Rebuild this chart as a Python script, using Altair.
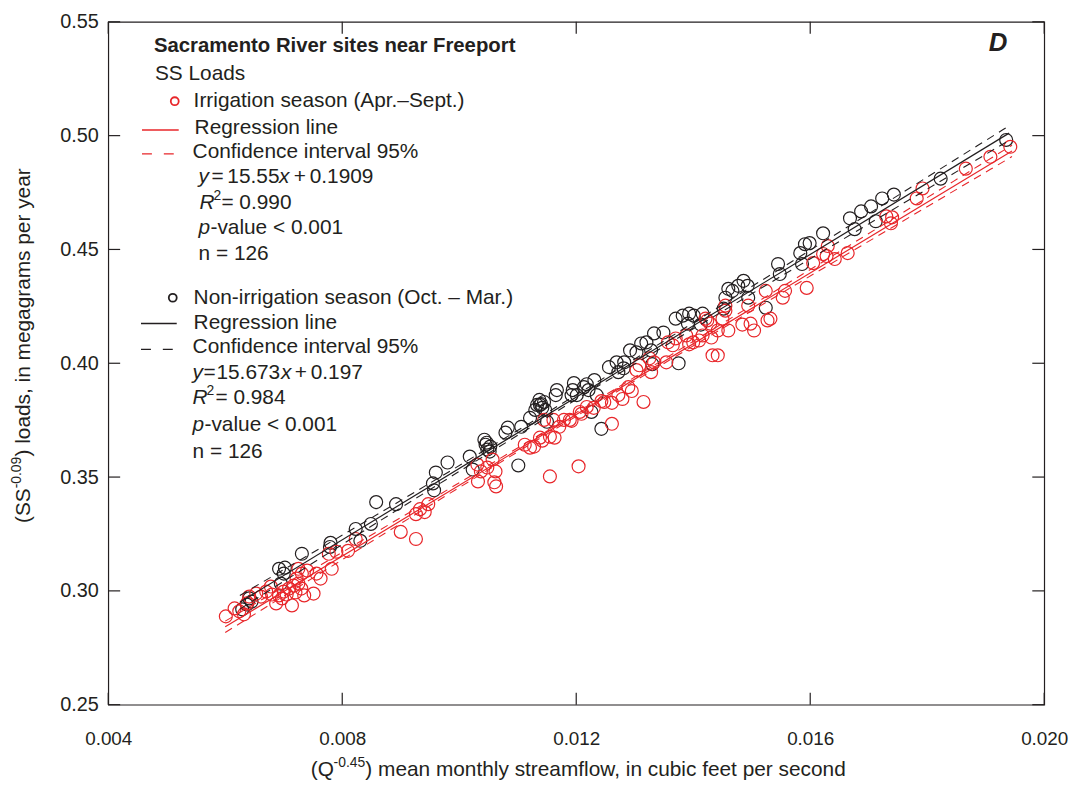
import altair as alt
import pandas as pd

FONT = "Liberation Sans, Arial, Helvetica, sans-serif"
INK = "#231f20"
RED = "#e8262a"

x_ticks = [0.004, 0.008, 0.012, 0.016, 0.020]
y_ticks = [0.25, 0.30, 0.35, 0.40, 0.45, 0.50, 0.55]

# Irrigation season (Apr.-Sept.)
red_x = [0.00601, 0.00616, 0.00624, 0.00632, 0.00637, 0.00641, 0.00653, 0.00661, 0.00670, 0.00680,
         0.00687, 0.00692, 0.00697, 0.00700, 0.00705, 0.00714, 0.00709, 0.00717, 0.00722, 0.00725,
         0.00731, 0.00730, 0.00735, 0.00720, 0.00751, 0.00756, 0.00763, 0.00740, 0.00782, 0.00777,
         0.00790, 0.00810, 0.00823, 0.00678, 0.00725,
         0.00900, 0.00926, 0.00926, 0.00933, 0.00941, 0.00947,
         0.01031, 0.01037, 0.01032, 0.01048, 0.01057, 0.01062, 0.01063, 0.01060,
         0.01112, 0.01121, 0.01128, 0.01138, 0.01142, 0.01155, 0.01155, 0.01163, 0.01161, 0.01171,
         0.01179, 0.01189, 0.01192, 0.01204, 0.01206, 0.01209, 0.01218, 0.01230, 0.01145,
         0.01243, 0.01248, 0.01261, 0.01261, 0.01272, 0.01279, 0.01289, 0.01295, 0.01303, 0.01308,
         0.01315, 0.01325, 0.01328, 0.01333, 0.01354, 0.01357, 0.01365, 0.01370, 0.01388, 0.01393,
         0.01400, 0.01410, 0.01416, 0.01424, 0.01429, 0.01431, 0.01433, 0.01442, 0.01442, 0.01450,
         0.01455, 0.01460, 0.01484, 0.01494, 0.01498, 0.01504, 0.01527, 0.01524, 0.01532, 0.01557,
         0.01553, 0.01594, 0.01605, 0.01622, 0.01628, 0.01630, 0.01642, 0.01664, 0.01730, 0.01738,
         0.01740, 0.01782, 0.01792, 0.01866, 0.01908, 0.01942, 0.01455, 0.01421]
red_y = [0.2888, 0.2923, 0.2910, 0.2897, 0.2945, 0.2975, 0.2988, 0.2975, 0.2997, 0.2984,
         0.2945, 0.2980, 0.2967, 0.2997, 0.2984, 0.2936, 0.3010, 0.3023, 0.3054, 0.3097,
         0.3076, 0.3010, 0.2980, 0.2993, 0.2988, 0.3076, 0.3054, 0.3089, 0.3097, 0.3163,
         0.3172, 0.3176, 0.3228, 0.3019, 0.3032,
         0.3259, 0.3228, 0.3337, 0.3359, 0.3346, 0.3381,
         0.3555, 0.3525, 0.3481, 0.3542, 0.3577, 0.3525, 0.3459, 0.3477,
         0.3642, 0.3629, 0.3634, 0.3673, 0.3660, 0.3503, 0.3677, 0.3673, 0.3751, 0.3721,
         0.3751, 0.3751, 0.3747, 0.3547, 0.3786, 0.3778, 0.3808, 0.3804, 0.3751,
         0.3834, 0.3830, 0.3826, 0.3734, 0.3860, 0.3843, 0.3895, 0.3878, 0.3970, 0.3991,
         0.3830, 0.4022, 0.3961, 0.4004, 0.4004, 0.4092, 0.4079, 0.4109, 0.4122, 0.4083,
         0.4092, 0.4100, 0.4122, 0.4188, 0.4174, 0.4113, 0.4035, 0.4035, 0.4144, 0.4196,
         0.4231, 0.4144, 0.4170, 0.4253, 0.4174, 0.4144, 0.4188, 0.4318, 0.4196, 0.4318,
         0.4288, 0.4331, 0.4440, 0.4480, 0.4471, 0.4515, 0.4458, 0.4484, 0.4645, 0.4615,
         0.4641, 0.4724, 0.4768, 0.4855, 0.4907, 0.4951, 0.4253, 0.4196]

# Non-irrigation season (Oct. - Mar.)
black_x = [0.00629, 0.00637, 0.00645, 0.00641, 0.00692, 0.00702, 0.00695, 0.00700, 0.00731, 0.00780,
           0.00779, 0.00823, 0.00831, 0.00849, 0.00858, 0.00892, 0.00955, 0.00957, 0.00960, 0.00980,
           0.01018, 0.01023, 0.01045, 0.01048, 0.01053, 0.01043, 0.01047, 0.01052, 0.01083, 0.01079,
           0.01101, 0.01106, 0.01121, 0.01130, 0.01138, 0.01145, 0.01133, 0.01150, 0.01142, 0.01140,
           0.01147, 0.01137, 0.01167, 0.01165, 0.01196, 0.01192, 0.01201, 0.01194, 0.01213, 0.01221,
           0.01218, 0.01231, 0.01235, 0.01226, 0.01243, 0.01256, 0.01269, 0.01272, 0.01282, 0.01281,
           0.01292, 0.01303, 0.01311, 0.01320, 0.01328, 0.01330, 0.01333, 0.01349, 0.01370, 0.01382,
           0.01393, 0.01391, 0.01375, 0.01401, 0.01413, 0.01416, 0.01452, 0.01455, 0.01460, 0.01467,
           0.01477, 0.01486, 0.01493, 0.01494, 0.01524, 0.01545, 0.01548, 0.01583, 0.01586, 0.01591,
           0.01599, 0.01622, 0.01668, 0.01676, 0.01687, 0.01704, 0.01712, 0.01723, 0.01743, 0.01823,
           0.01935]
black_y = [0.2919, 0.2940, 0.2953, 0.2967, 0.3097, 0.3102, 0.3032, 0.3076, 0.3163, 0.3211,
           0.3193, 0.3272, 0.3220, 0.3294, 0.3390, 0.3381, 0.3472, 0.3442, 0.3520, 0.3564,
           0.3590, 0.3533, 0.3642, 0.3621, 0.3634, 0.3664, 0.3651, 0.3612, 0.3717, 0.3695,
           0.3551, 0.3721, 0.3760, 0.3795, 0.3817, 0.3830, 0.3817, 0.3743, 0.3804, 0.3821,
           0.3795, 0.3839, 0.3882, 0.3860, 0.3913, 0.3860, 0.3860, 0.3882, 0.3895, 0.3882,
           0.3908, 0.3926, 0.3860, 0.3786, 0.3712, 0.3983, 0.4004, 0.3961, 0.4004, 0.3978,
           0.4057, 0.4048, 0.4087, 0.4092, 0.4057, 0.3996, 0.4131, 0.4135, 0.4196, 0.4209,
           0.4218, 0.4174, 0.4000, 0.4209, 0.4170, 0.4218, 0.4240, 0.4288, 0.4327, 0.4318,
           0.4340, 0.4362, 0.4340, 0.4288, 0.4244, 0.4436, 0.4392, 0.4484, 0.4436, 0.4523,
           0.4528, 0.4571, 0.4637, 0.4589, 0.4667, 0.4689, 0.4624, 0.4724, 0.4741, 0.4811,
           0.4981]

# Regression lines (end points, from the fitted equations)
red_line_x = [0.0060, 0.01945]
red_line_y = [0.2842, 0.4933]
black_line_x = [0.00625, 0.0194]
black_line_y = [0.2950, 0.5011]

# 95% confidence interval lines
red_ci_x = [0.0060, 0.009, 0.012, 0.015, 0.01945]
red_ci_upper = [0.2867, 0.3322, 0.3783, 0.4254, 0.4958]
red_ci_lower = [0.2817, 0.3296, 0.3767, 0.4230, 0.4908]
black_ci_x = [0.00625, 0.009, 0.012, 0.015, 0.0194]
black_ci_upper = [0.2980, 0.3397, 0.3861, 0.4337, 0.5043]
black_ci_lower = [0.2920, 0.3365, 0.3841, 0.4305, 0.4979]

W, H = 943, 688
TICK = 12

xs = alt.Scale(domain=[0.004, 0.020], nice=False, zero=False)
ys = alt.Scale(domain=[0.25, 0.55], nice=False, zero=False)

x_axis = alt.Axis(values=x_ticks, format=".3f", grid=False, domain=False, ticks=False, tickSize=0,
                  labelFont=FONT, labelFontSize=19, labelColor=INK, labelPadding=25, labelFlush=False,
                  title="")
y_axis = alt.Axis(values=y_ticks, format=".2f", grid=False, domain=False, ticks=False, tickSize=0,
                  labelFont=FONT, labelFontSize=20, labelColor=INK, labelPadding=10, labelFlush=False,
                  title="")

X = alt.X("x:Q", scale=xs, axis=x_axis)
Y = alt.Y("y:Q", scale=ys, axis=y_axis)

xt = pd.DataFrame({"x": x_ticks})
yt = pd.DataFrame({"y": y_ticks})
ticks = [
    alt.Chart(xt).mark_rule(color=INK, strokeWidth=1.2).encode(x=X, y=alt.value(H), y2=alt.value(H - TICK)),
    alt.Chart(xt).mark_rule(color=INK, strokeWidth=1.2).encode(x=X, y=alt.value(0), y2=alt.value(TICK)),
    alt.Chart(yt).mark_rule(color=INK, strokeWidth=1.2).encode(y=Y, x=alt.value(0), x2=alt.value(TICK)),
    alt.Chart(yt).mark_rule(color=INK, strokeWidth=1.2).encode(y=Y, x=alt.value(W), x2=alt.value(W - TICK)),
]

black_pts = alt.Chart(pd.DataFrame({"x": black_x, "y": black_y})).mark_point(
    shape="circle", filled=False, size=170, strokeWidth=1.2, color=INK, opacity=1).encode(x=X, y=Y)
red_pts = alt.Chart(pd.DataFrame({"x": red_x, "y": red_y})).mark_point(
    shape="circle", filled=False, size=170, strokeWidth=1.2, color=RED, opacity=1).encode(x=X, y=Y)


def ci_layer(xv, up, lo, color):
    df = pd.DataFrame({"x": xv + xv, "y": up + lo, "g": ["u"] * len(xv) + ["l"] * len(xv)})
    return alt.Chart(df).mark_line(color=color, strokeWidth=1.1, strokeDash=[8, 6],
                                   interpolate="monotone").encode(x=X, y=Y, detail="g:N")


def reg_layer(xv, yv, color):
    return alt.Chart(pd.DataFrame({"x": xv, "y": yv})).mark_line(color=color, strokeWidth=1.2).encode(x=X, y=Y)


lines = [
    ci_layer(black_ci_x, black_ci_upper, black_ci_lower, INK),
    reg_layer(black_line_x, black_line_y, INK),
    ci_layer(red_ci_x, red_ci_upper, red_ci_lower, RED),
    reg_layer(red_line_x, red_line_y, RED),
]

ONE = pd.DataFrame({"t": [""]})


def txt(s, x, y, size=21, italic=False, bold=False, color=INK, angle=0):
    kw = dict(align="left", baseline="middle", font=FONT, fontSize=size,
              fontStyle="italic" if italic else "normal",
              fontWeight="bold" if bold else "normal", color=color)
    if angle:
        kw["angle"] = angle
    return alt.Chart(pd.DataFrame({"t": [s]})).mark_text(**kw).encode(
        x=alt.value(x), y=alt.value(y), text="t:N")


def sym_circle(x, y, color):
    return alt.Chart(ONE).mark_point(shape="circle", filled=False, size=64, strokeWidth=1.8,
                                     color=color, opacity=1).encode(x=alt.value(x), y=alt.value(y))


def sym_line(x1, x2, y, color, dash=None):
    kw = dict(color=color, strokeWidth=1.4)
    if dash:
        kw["strokeDash"] = dash
    return alt.Chart(ONE).mark_rule(**kw).encode(x=alt.value(x1), x2=alt.value(x2), y=alt.value(y))


legend = [
    txt("Sacramento River sites near Freeport", 46, 24, size=20.5, bold=True),
    txt("SS Loads", 47, 53),
    sym_circle(67, 80, RED),
    txt("Irrigation season (Apr.\u2013Sept.)", 86, 80),
    sym_line(34, 71, 109, RED),
    txt("Regression line", 87, 107),
    sym_line(34, 66, 133, RED, dash=[10, 12]),
    txt("Confidence interval 95%", 85, 131),
    txt("y", 91, 156, italic=True), txt("=", 104, 156), txt("15.55", 120, 156),
    txt("x", 172, 156, italic=True), txt("+", 187, 156), txt("0.1909", 203, 156),
    txt("R", 92, 183, italic=True), txt("2", 106, 176, size=14), txt("= 0.990", 114, 183),
    txt("p", 91, 208, italic=True), txt("-value < 0.001", 103, 208),
    txt("n = 126", 91, 234),
    sym_circle(65, 278, INK),
    txt("Non-irrigation season (Oct. \u2013 Mar.)", 86, 278),
    sym_line(33, 69, 304, INK),
    txt("Regression line", 86, 303),
    sym_line(33, 65, 330, INK, dash=[10, 12]),
    txt("Confidence interval 95%", 85, 328),
    txt("y", 85, 354, italic=True), txt("=", 96, 354), txt("15.673", 109, 354),
    txt("x", 174, 354, italic=True), txt("+", 188, 354), txt("0.197", 204, 354),
    txt("R", 85, 379, italic=True), txt("2", 99, 372, size=14), txt("= 0.984", 108, 379),
    txt("p", 85, 406, italic=True), txt("-value < 0.001", 97, 406),
    txt("n = 126", 85, 433),
    txt("D", 887, 21, size=26, italic=True, bold=True),
]

# Axis titles (with superscripts)
titles = [
    txt("(Q", 204, 754),
    txt("-0.45", 227, 747, size=14),
    txt(") mean monthly streamflow, in cubic feet per second", 259, 754),
    txt("(SS", -85, 505, angle=270),
    txt("-0.09", -92, 470, size=14, angle=270),
    txt(") loads, in megagrams per year", -85, 438, angle=270),
]

chart = alt.layer(*ticks, black_pts, red_pts, *lines, *legend, *titles).properties(
    width=W, height=H,
    padding={"left": 101, "top": 11, "right": 28, "bottom": 80},
    autosize=alt.AutoSizeParams(type="none"),
    background="white",
).configure_view(stroke=INK, strokeWidth=1.2)

chart.save("out.html", embed_options={"renderer": "svg", "actions": False})
